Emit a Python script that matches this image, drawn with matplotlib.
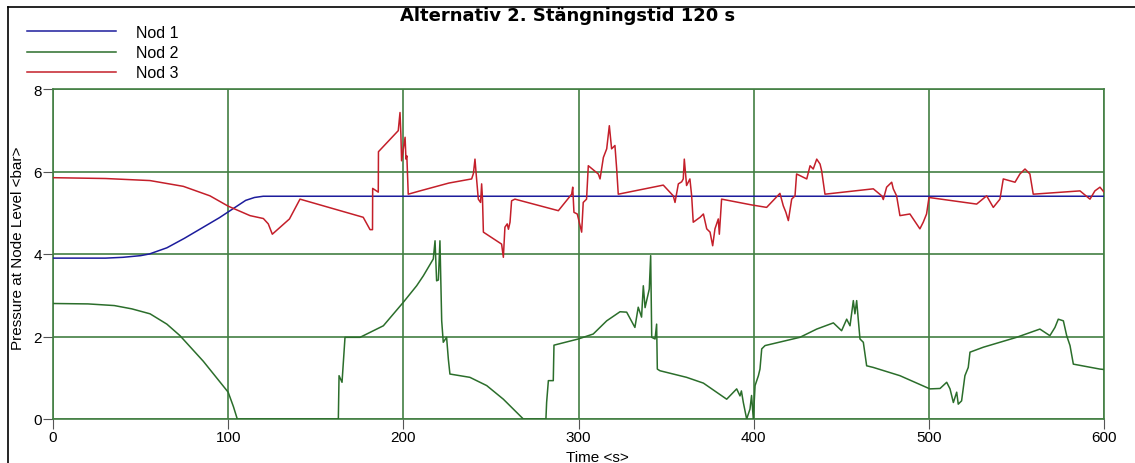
import numpy as np
import matplotlib.pyplot as plt
from matplotlib.lines import Line2D

# Nod 1 pressure (bar)
t_nod1 = [0, 30, 40, 50, 55, 65, 75, 85, 95, 100, 105, 110, 115, 120, 600]
p_nod1 = [3.9, 3.9, 3.92, 3.96, 4.0, 4.15, 4.38, 4.63, 4.88, 5.02, 5.16, 5.3, 5.37, 5.4, 5.4]

# Nod 2 pressure (bar)
t_nod2 = [0, 20, 35, 45, 55.4, 65, 72.5, 85.8, 100, 103, 105.2,
          162.9, 163.3, 165, 166.7, 175.3, 188.6, 200, 207.6, 211.4, 217.1, 218.1, 219, 220, 220.9,
          221.9, 222.8, 224.7, 225.7, 226.6, 238, 247.6, 257.1, 268.5,
          281.4, 281.8, 282.8, 285.6, 286, 299.9, 308.4, 316.1, 323.7, 327.5, 332.2, 334.1, 336,
          337, 338, 338.9, 340.4, 341.2, 341.8, 343.7, 344.6, 345, 346.5, 361.7, 371.3,
          384.6, 390.3, 392.2, 393, 394.1, 396, 397.9, 398.8, 399.8, 400.8, 402.7, 403.6, 404.6,
          406.5, 426.4, 436, 445.5, 450.2, 453.1, 455, 456.9, 457.8, 458.8, 459.7, 460.7, 462.6,
          464.5, 468.3, 483.5, 500.6, 506.4, 510.2, 512.1, 514, 515.9, 516.8, 518.7, 520.6,
          522.5, 523.5, 531.1, 550.1, 563.4, 569.1, 572, 573.9, 576.8, 578.7, 580.6, 582.5,
          597.7, 600]
p_nod2 = [2.8, 2.79, 2.75, 2.67, 2.55, 2.3, 2.02, 1.4, 0.65, 0.3, 0.0,
          0.0, 1.05, 0.89, 1.98, 1.98, 2.26, 2.83, 3.23, 3.47, 3.88, 4.32, 3.35, 3.37, 4.32,
          2.38, 1.86, 1.98, 1.45, 1.09, 1.01, 0.81, 0.48, 0.0,
          0.0, 0.4, 0.93, 0.93, 1.79, 1.94, 2.06, 2.38, 2.6, 2.59, 2.22, 2.71, 2.47,
          3.23, 2.7, 2.87, 3.15, 3.96, 1.98, 1.94, 2.3, 1.21, 1.17, 1.01, 0.87,
          0.48, 0.73, 0.56, 0.68, 0.4, 0.0, 0.24, 0.57, 0.0, 0.81, 1.05, 1.21, 1.7,
          1.78, 1.98, 2.18, 2.33, 2.14, 2.42, 2.26, 2.87, 2.55, 2.87, 2.42, 1.94, 1.86,
          1.29, 1.25, 1.05, 0.73, 0.74, 0.89, 0.73, 0.4, 0.65, 0.36, 0.44, 1.05,
          1.25, 1.62, 1.74, 1.98, 2.18, 2.02, 2.22, 2.42, 2.38, 2.02, 1.78, 1.33,
          1.21, 1.2]

# Nod 3 pressure (bar)
t_nod3 = [0, 30, 55.4, 74.4, 89.6, 100, 112.5, 120.1, 122.9, 125.2, 135, 141,
          177.1, 181, 182.4, 182.5, 185.7, 185.8, 197.1, 198.1, 198.6, 199, 201, 201.5, 202, 202.8,
          209.5, 226, 239, 240, 240.9, 241.5, 242.8, 244.1, 244.7, 245.2, 245.7, 256.1, 257.1,
          258, 259.3, 260, 260.9, 261.8, 263.7, 288.5, 296.1, 296.7, 297.4, 299.3, 301.8,
          302.7, 304.6, 305.6, 311.3, 312.3, 314.2, 316.1, 317.6, 318.9, 320.8, 321.8, 322.7,
          348.4, 354.1, 355.1, 357, 358.9, 359.8, 360.4, 361.7, 363.6, 364.6, 365.5, 369.4,
          371.3, 373.2, 375.1, 376.6, 377.9, 379.8, 380.4, 381.7, 398.8, 407.4, 415, 416.9,
          418.4, 419.8, 421.7, 423.6, 424.5, 430.3, 432.2, 434, 436, 437.9, 438.8, 440.7,
          468.3, 473.1, 474, 475.9, 478.8, 479.7, 481.6, 483.5, 489.2, 491.1, 493, 494.9,
          496.8, 498.7, 500.1, 527.3, 533, 536.8, 540.6, 542.5, 549.2, 552, 554.9, 557.7,
          559.6, 586.3, 592, 594.8, 597.7, 600]
p_nod3 = [5.85, 5.83, 5.78, 5.64, 5.41, 5.16, 4.93, 4.86, 4.73, 4.48, 4.85, 5.33,
          4.89, 4.59, 4.59, 5.59, 5.5, 6.48, 6.99, 7.43, 6.9, 6.26, 6.83, 6.3, 6.38, 5.45,
          5.53, 5.72, 5.82, 5.95, 6.3, 5.98, 5.33, 5.25, 5.7, 5.33, 4.53, 4.24, 3.92,
          4.65, 4.73, 4.6, 4.77, 5.29, 5.33, 5.05, 5.45, 5.62, 5.01, 4.97, 4.53,
          5.25, 5.33, 6.14, 5.94, 5.82, 6.34, 6.55, 7.11, 6.55, 6.63, 6.06, 5.45,
          5.67, 5.41, 5.25, 5.7, 5.75, 5.82, 6.3, 5.66, 5.82, 5.41, 4.77, 4.89,
          4.97, 4.61, 4.53, 4.2, 4.61, 4.85, 4.48, 5.33, 5.19, 5.13, 5.47, 5.17,
          5.01, 4.81, 5.33, 5.41, 5.94, 5.82, 6.14, 6.06, 6.3, 6.18, 6.02, 5.45,
          5.58, 5.41, 5.32, 5.62, 5.74, 5.58, 5.41, 4.93, 4.97, 4.85, 4.73, 4.61,
          4.77, 4.97, 5.37, 5.21, 5.41, 5.13, 5.33, 5.82, 5.74, 5.94, 6.06, 5.94,
          5.45, 5.53, 5.33, 5.53, 5.62, 5.5]

x_ticks = [0, 100, 200, 300, 400, 500, 600]
y_ticks = [0, 2, 4, 6, 8]

c_nod1 = '#1c1c9c'
c_nod2 = '#2b6e2b'
c_nod3 = '#c41f2a'
c_grid = '#437f43'

sans = ['Liberation Sans', 'DejaVu Sans']

fig = plt.figure(figsize=(11.35, 4.64), dpi=100)
ax = fig.add_axes([53 / 1135, 44 / 464, 1051 / 1135, 330 / 464])

ax.plot(t_nod1, p_nod1, color=c_nod1, lw=1.1, label='Nod 1', zorder=3)
ax.plot(t_nod2, p_nod2, color=c_nod2, lw=1.1, label='Nod 2', zorder=3)
ax.plot(t_nod3, p_nod3, color=c_nod3, lw=1.1, label='Nod 3', zorder=3)

ax.set_xlim(0, 600)
ax.set_ylim(0, 8)
ax.set_xticks(x_ticks)
ax.set_yticks(y_ticks)
ax.set_xticklabels([str(v) for v in x_ticks], family=sans, fontsize=11)
ax.set_yticklabels([str(v) for v in y_ticks], family=sans, fontsize=11)
ax.tick_params(direction='out', length=7, width=0.8, color='#555555', pad=1)
ax.grid(True, color=c_grid, lw=1.2, zorder=1)
for s in ax.spines.values():
    s.set_color(c_grid)
    s.set_linewidth(1.2)

ax.set_xlabel('Time <s>', family=sans, fontsize=11)
ax.set_ylabel('Pressure at Node Level <bar>', family=sans, fontsize=11)
ax.xaxis.set_label_coords(0.5176, -0.093)
ax.yaxis.set_label_coords(-0.0265, 0.52)

fig.text(568 / 1135, 1 - 16 / 464, 'Alternativ 2. Stängningstid 120 s', ha='center', va='center',
         family='DejaVu Sans', fontsize=13, fontweight='bold')

fig.legend(loc='upper left', bbox_to_anchor=(27 / 1135, 1 - 26 / 464), frameon=False,
           prop={'family': sans, 'size': 11.5}, handlelength=5.6, handletextpad=1.2,
           labelspacing=0.32, borderpad=0, borderaxespad=0)

# frame lines along top and left edge
fig.add_artist(Line2D([8 / 1135, 1], [1 - 8 / 464, 1 - 8 / 464], color='black', lw=1.2))
fig.add_artist(Line2D([8 / 1135, 8 / 1135], [0, 1 - 8 / 464], color='black', lw=1.2))

fig.savefig('out.png', dpi=100)
